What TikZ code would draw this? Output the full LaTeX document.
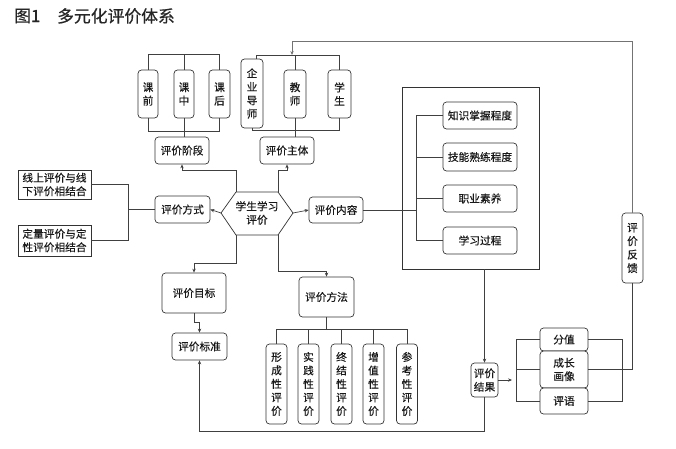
\documentclass[tikz,border=0pt]{standalone}
\usepackage{fontspec}
\newfontfamily\cjk[FakeBold=0.4]{Noto Sans CJK SC}
\newfontfamily\cjkb[FakeBold=0.6]{Noto Sans CJK SC}
\usetikzlibrary{arrows.meta}
\newcommand\lblfont{\cjk\fontsize{10.7}{13.5}\selectfont}
\newcommand\ttlfont{\cjkb\fontsize{16.8}{18}\selectfont}
\begin{document}
\begin{tikzpicture}[x=1pt,y=-1pt,
  bx/.style={draw=black!80, line width=0.7pt, rounded corners=3.5pt, fill=white, inner sep=0pt, align=center, font=\lblfont, text=black!90},
  sq/.style={bx, rounded corners=0pt},
  ln/.style={draw=black!75, line width=0.7pt},
  arr/.style={ln, -{Stealth[length=4pt,width=3.4pt]}},
]
\fill[white] (0,0) rectangle (676,448);
\useasboundingbox (0,0) rectangle (676,448);

% title
\node[anchor=west, font=\ttlfont, inner sep=0pt, text=black!85] (t1) at (14,16) {图1};
\node[anchor=west, font=\ttlfont, inner sep=0pt, text=black!85] (t2) at (57,16) {多元化评价体系};

% helper coordinates
\coordinate (y54) at (0,54);
\coordinate (y131) at (0,131);
\coordinate (y55) at (0,55);
\coordinate (y130) at (0,130);
\coordinate (y170) at (0,170);
\coordinate (y263) at (0,263);
\coordinate (y271) at (0,271);
\coordinate (y322) at (0,322);
\coordinate (y329) at (0,329);
\coordinate (y41) at (0,41);
\coordinate (y431) at (0,431);
\coordinate (x128) at (128,0);
\coordinate (x416) at (416,0);
\coordinate (x513) at (512,0);
\coordinate (x516) at (516,0);
\coordinate (x622) at (622,0);
\coordinate (x292) at (292,0);

% stage
\node[bx, minimum width=20, minimum height=48] (kq) at (148,94) {课\\前};
\node[bx, minimum width=20, minimum height=48] (kz) at (184,94) {课\\中};
\node[bx, minimum width=21, minimum height=48] (kh) at (219.5,94) {课\\后};
\node[bx, minimum width=54, minimum height=27] (jd) at (182,150.5) {评价阶段};

% subject
\node[bx, minimum width=22, minimum height=69] (qy) at (252,93.5) {企\\业\\导\\师};
\node[bx, minimum width=22, minimum height=48] (js) at (295,94) {教\\师};
\node[bx, minimum width=23, minimum height=48] (xs) at (339.5,94) {学\\生};
\node[bx, minimum width=54, minimum height=27] (zt) at (287,150.5) {评价主体};

% center hexagon
\coordinate (hl) at (221,213);
\coordinate (htl) at (236,192);
\coordinate (htr) at (278,192);
\coordinate (hr) at (293,213);
\coordinate (hbr) at (278,235);
\coordinate (hbl) at (236,235);
\draw[draw=black!80, line width=0.7pt, fill=white] (hl) -- (htl) -- (htr) -- (hr) -- (hbr) -- (hbl) -- cycle;
\node[font=\lblfont, align=center, inner sep=0pt, text=black!90] (hex) at (257,213) {学生学习\\评价};

% mode
\node[bx, minimum width=55, minimum height=27] (fs) at (182.5,209.5) {评价方式};
\node[sq, minimum width=73, minimum height=29] (xs1) at (54.5,184.5) {线上评价与线\\下评价相结合};
\node[sq, minimum width=73, minimum height=31] (dl) at (54.5,240.5) {定量评价与定\\性评价相结合};

% content
\node[bx, minimum width=54, minimum height=26] (nr) at (336,210) {评价内容};
\node[draw=black!80, line width=0.7pt, minimum width=137, minimum height=182, inner sep=0pt] (big) at (470.5,178) {};
\node[bx, minimum width=74, minimum height=27] (zs) at (480,115.5) {知识掌握程度};
\node[bx, minimum width=74, minimum height=28] (jn) at (480,157) {技能熟练程度};
\node[bx, minimum width=74, minimum height=27] (zy) at (480,198.5) {职业素养};
\node[bx, minimum width=74, minimum height=27] (xx) at (480,240.5) {学习过程};

% goal / standard
\node[bx, minimum width=64, minimum height=40] (mb) at (194,293) {评价目标};
\node[bx, minimum width=55, minimum height=27] (bz) at (199.5,346.5) {评价标准};

% method
\node[bx, minimum width=55, minimum height=40] (ff) at (326.5,297) {评价方法};
\node[bx, minimum width=21, minimum height=80] (m1) at (276.5,384) {形\\成\\性\\评\\价};
\node[bx, minimum width=21, minimum height=80] (m2) at (308.5,384) {实\\践\\性\\评\\价};
\node[bx, minimum width=21, minimum height=80] (m3) at (341.5,384) {终\\结\\性\\评\\价};
\node[bx, minimum width=21, minimum height=80] (m4) at (373.5,384) {增\\值\\性\\评\\价};
\node[bx, minimum width=21, minimum height=80] (m5) at (407,384) {参\\考\\性\\评\\价};

% result
\node[bx, minimum width=27, minimum height=34] (jg) at (484.5,380) {评价\\结果};
\node[bx, minimum width=48, minimum height=23] (fz) at (564,339.5) {分值};
\node[bx, minimum width=48, minimum height=37] (cz) at (564,369.5) {成长\\画像};
\node[bx, minimum width=48, minimum height=26] (py) at (564,401) {评语};
\node[bx, minimum width=21, minimum height=70] (fk) at (632.5,248) {评\\价\\反\\馈};

% ---- connectors ----
% stage bracket
\draw[ln] (kq.north) -- (kq.north |- y54) -- (kh.north |- y54) -- (kh.north);
\draw[ln] (kz.north) -- (kz.north |- y54);
\draw[ln] (kq.south) -- (kq.south |- y131) -- (kh.south |- y131) -- (kh.south);
\draw[ln] (kz.south) -- (kz.south |- jd.north);

% subject bracket
\coordinate (qyt) at ([xshift=4pt]qy.north);
\draw[ln] (qyt) -- (qyt |- y55) -- (xs.north |- y55) -- (xs.north);
\draw[ln] (js.north) -- (js.north |- y55);
\draw[ln] (qy.south) -- (qy.south |- y130) -- (xs.south |- y130) -- (xs.south);
\draw[ln] (js.south) -- (js.south |- zt.north);

% feedback loop
\draw[arr, draw=black!55] (fk.north) -- (fk.north |- y41) -- (x292 |- y41) -- (x292 |- y55);

% from hexagon
\draw[arr] (htl) -- (htl |- y170) -| (jd.south);
\draw[arr] (htr) -- (htr |- y170) -| (zt.south);
\draw[arr] (hl) -- (fs.east);
\draw[arr] (hr) -- (nr.west);
\draw[arr] (hbl) -- (hbl |- y263) -| (mb.north);
\draw[arr] (hbr) -- (hbr |- y271) -| (ff.north);

% mode bracket
\draw[ln] (fs.west) -- (x128 |- fs.west);
\draw[ln] (xs1.east) -- (x128 |- xs1.east) -- (x128 |- dl.east) -- (dl.east);

% goal -> standard
\draw[arr] (mb.south) -- (mb.south |- y322) -| (bz.north);

% method bracket
\draw[ln] (ff.south) -- (ff.south |- y329);
\draw[ln] (m1.north) -- (m1.north |- y329) -- (m5.north |- y329) -- (m5.north);
\foreach \i in {2,3,4} \draw[ln] (m\i.north) -- (m\i.north |- y329);

% content bracket
\draw[ln] (nr.east) -- (x416 |- nr.east);
\draw[ln] (zs.west) -- (x416 |- zs.west) -- (x416 |- xx.west) -- (xx.west);
\draw[ln] (jn.west) -- (x416 |- jn.west);
\draw[ln] (zy.west) -- (x416 |- zy.west);

% content -> result
\draw[arr] (jg.north |- big.south) -- (jg.north);
\draw[arr] (jg.east) -- (x513 |- jg.east);

% result brackets
\draw[ln] (fz.west) -- (x516 |- fz.west) -- (x516 |- py.west) -- (py.west);
\draw[ln] (cz.west) -- (x516 |- cz.west);
\draw[ln] (fz.east) -- (x622 |- fz.east) -- (x622 |- py.east) -- (py.east);
\draw[ln] (cz.east) -- (x622 |- cz.east) -| (fk.south);

% result -> standard
\draw[arr] (jg.south) -- (jg.south |- y431) -| (bz.south);
\end{tikzpicture}
\end{document}
